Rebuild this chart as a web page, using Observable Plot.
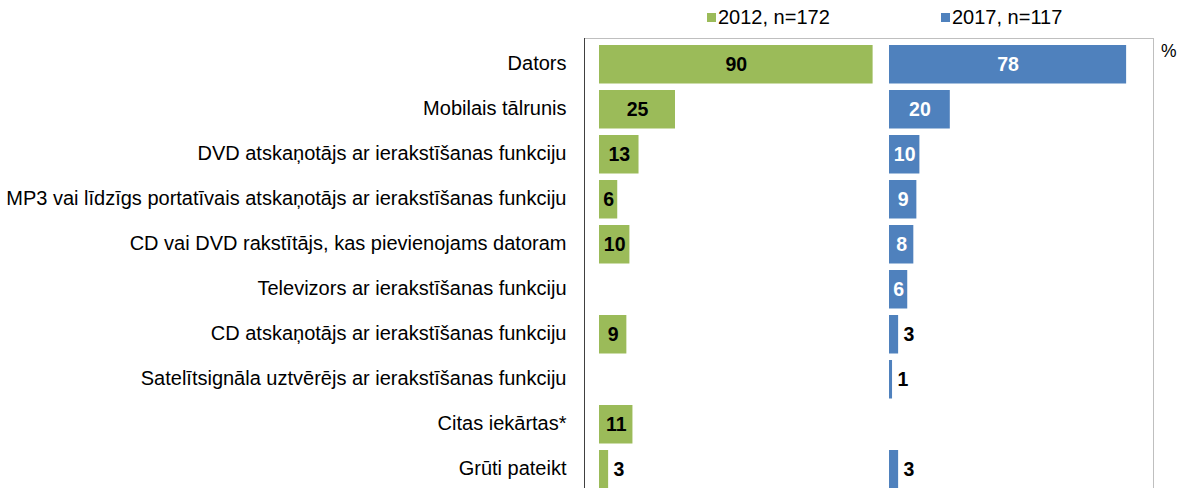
<!DOCTYPE html>
<html>
<head>
<meta charset="utf-8">
<script src="https://cdn.jsdelivr.net/npm/d3@7"></script>
<script src="https://cdn.jsdelivr.net/npm/@observablehq/plot@0.6"></script>
<style>
  html, body { margin: 0; padding: 0; background: #fff; overflow: hidden; }
  body { font-family: "Liberation Sans", Arial, sans-serif; color: #000; }
  #wrap { position: relative; width: 1178px; height: 488px; overflow: hidden; }
  #legend { position: absolute; left: 0; top: 0; height: 38px; width: 1178px; font-size: 20px; }
  .item { position: absolute; top: 6px; display: flex; align-items: center; white-space: nowrap; line-height: 23px; }
  .sw { width: 9px; height: 9px; margin-right: 2px; }
  #chart { position: absolute; left: 0; top: 38px; }
  #pct { position: absolute; left: 1161px; top: 41px; font-size: 17.5px; line-height: 20px; }
  #chart svg { display: block; }
</style>
</head>
<body>
<div id="wrap">
  <div id="legend"></div>
  <div id="chart"></div>
  <div id="pct">%</div>
</div>
<script>
const categories = [
  "Dators",
  "Mobilais tālrunis",
  "DVD atskaņotājs ar ierakstīšanas funkciju",
  "MP3 vai līdzīgs portatīvais atskaņotājs ar ierakstīšanas funkciju",
  "CD vai DVD rakstītājs, kas pievienojams datoram",
  "Televizors ar ierakstīšanas funkciju",
  "CD atskaņotājs ar ierakstīšanas funkciju",
  "Satelītsignāla uztvērējs ar ierakstīšanas funkciju",
  "Citas iekārtas*",
  "Grūti pateikt"
];
const series = ["2012, n=172", "2017, n=117"];
const values2012 = [90, 25, 13, 6, 10, null, 9, null, 11, 3];
const values2017 = [78, 20, 10, 9, 8, 6, 3, 1, null, 3];
const seriesColors = ["#9BBB59", "#4F81BD"];
const insideLabelColors = ["#000000", "#FFFFFF"];

const data = [];
[values2012, values2017].forEach((vals, si) => {
  vals.forEach((v, i) => {
    if (v != null) data.push({category: categories[i], series: series[si], si, value: v});
  });
});
const inside = data.filter(d => d.value > 3);
const outside = data.filter(d => d.value <= 3);

// legend
const legend = d3.select("#legend");
const legendLeft = [707, 941];
series.forEach((s, i) => {
  const it = legend.append("div").attr("class", "item").style("left", legendLeft[i] + "px");
  it.append("div").attr("class", "sw").style("background", seriesColors[i]);
  it.append("span").text(s);
});

const W = 1178, H = 456;
const mLeft = 584, mRight = 24;
const plot = Plot.plot({
  width: W,
  height: H,
  marginLeft: mLeft,
  marginRight: mRight,
  marginTop: 0,
  marginBottom: 1,
  style: {fontFamily: "'Liberation Sans', Arial, sans-serif", fontSize: "20px", color: "#000", background: "#fff", overflow: "visible"},
  fx: {domain: series, paddingInner: 10 / 290, paddingOuter: 0, axis: null, label: null},
  x: {domain: [0, 87.17], insetLeft: 15, axis: null},
  y: {domain: categories, padding: 0, axis: null},
  color: {domain: series, range: seriesColors},
  marks: [
    Plot.barX(data, {fx: "series", y: "category", x: "value", fill: "series", insetTop: 4, insetBottom: 2.5}),
    Plot.text(inside, {fx: "series", y: "category", x: d => d.value / 2, text: d => String(d.value),
      fill: d => insideLabelColors[d.si], fontWeight: "bold", fontSize: 19.5, dy: 1}),
    Plot.text(outside, {fx: "series", y: "category", x: "value", text: d => String(d.value),
      fill: "#000", fontWeight: "bold", fontSize: 19.5, textAnchor: "start", dx: 5, dy: 1}),
    Plot.axisY({anchor: "left", tickSize: 0, tickPadding: 18, fontSize: 20, fill: "#000", label: null,
      facetAnchor: "left", dy: -0.5})
  ]
});
document.getElementById("chart").appendChild(plot);

// plot-area border (Excel-style): light grey top/right, dark left axis line
const svg = d3.select(plot);
const g = svg.append("g").attr("fill", "none").attr("shape-rendering", "crispEdges");
g.append("line").attr("x1", mLeft).attr("x2", W - mRight).attr("y1", 0.5).attr("y2", 0.5).attr("stroke", "#BFBFBF").attr("stroke-width", 1.5);
g.append("line").attr("x1", W - mRight - 0.5).attr("x2", W - mRight - 0.5).attr("y1", 0).attr("y2", H).attr("stroke", "#BFBFBF").attr("stroke-width", 1.5);
g.append("line").attr("x1", mLeft + 0.5).attr("x2", mLeft + 0.5).attr("y1", 0).attr("y2", H).attr("stroke", "#404040").attr("stroke-width", 1);
</script>
</body>
</html>
